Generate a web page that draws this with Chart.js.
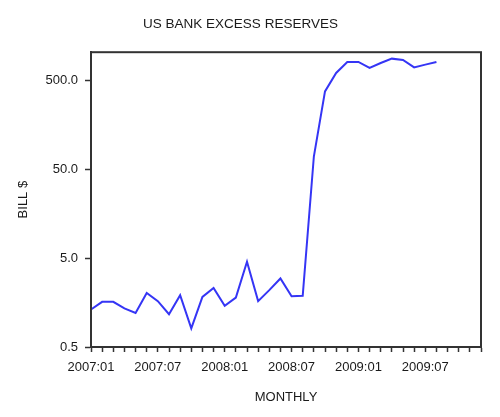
<!DOCTYPE html>
<html>
<head>
<meta charset="utf-8">
<script src="https://cdn.jsdelivr.net/npm/chart.js@4/dist/chart.umd.min.js"></script>
<style>
  html, body { margin: 0; padding: 0; background: #fff; }
  #wrap { width: 500px; height: 417px; }
</style>
</head>
<body>
<div id="wrap"><canvas id="reserves-chart"></canvas></div>
<script>
const months = [
  "2007:01", "2007:02", "2007:03", "2007:04", "2007:05", "2007:06",
  "2007:07", "2007:08", "2007:09", "2007:10", "2007:11", "2007:12",
  "2008:01", "2008:02", "2008:03", "2008:04", "2008:05", "2008:06",
  "2008:07", "2008:08", "2008:09", "2008:10", "2008:11", "2008:12",
  "2009:01", "2009:02", "2009:03", "2009:04", "2009:05", "2009:06",
  "2009:07", "2009:08", "2009:09", "2009:10", "2009:11", "2009:12"
];

// excess reserves, billions of dollars (2007:01 .. 2009:08)
const excessReserves = [
  1.32, 1.61, 1.61, 1.36, 1.21, 2.03, 1.64, 1.17, 1.91, 0.81, 1.83, 2.31,
  1.45, 1.80, 4.54, 1.64, 2.18, 2.95, 1.86, 1.88, 69.4, 375, 604, 804,
  804, 688, 783, 876, 847, 699, 750, 804
];

const xTickLabels = ["2007:01", "2007:07", "2008:01", "2008:07", "2009:01", "2009:07"];
const yTickValues = [0.5, 5, 50, 500];
const yTickLabels = ["0.5", "5.0", "50.0", "500.0"];

const TEXT_COLOR = "#1a1a1a";
const AXIS_COLOR = "#333";

// box around the plot area
const framePlugin = {
  id: "frame",
  afterDraw(chart) {
    const { ctx, chartArea } = chart;
    ctx.save();
    ctx.strokeStyle = AXIS_COLOR;
    ctx.lineWidth = 2;
    ctx.strokeRect(chartArea.left, chartArea.top, chartArea.right - chartArea.left, chartArea.bottom - chartArea.top);
    ctx.restore();
  }
};

Chart.defaults.font.family = "'Liberation Sans', Arial, sans-serif";
Chart.defaults.color = TEXT_COLOR;

new Chart(document.getElementById("reserves-chart").getContext("2d"), {
  type: "line",
  data: {
    labels: months,
    datasets: [{
      label: "Excess reserves",
      data: excessReserves,
      borderColor: "#3535f5",
      borderWidth: 2,
      pointRadius: 0,
      tension: 0,
      fill: false
    }]
  },
  options: {
    responsive: true,
    maintainAspectRatio: false,
    animation: false,
    layout: {
      padding: { left: 0, right: 19, top: 0, bottom: 0 }
    },
    plugins: {
      legend: { display: false },
      tooltip: { enabled: false },
      title: {
        display: true,
        text: "US BANK EXCESS RESERVES",
        color: TEXT_COLOR,
        font: { size: 13.5, weight: "normal" },
        padding: { top: 16, bottom: 20 }
      }
    },
    scales: {
      x: {
        type: "category",
        offset: false,
        grid: {
          display: true,
          drawOnChartArea: false,
          drawTicks: true,
          tickLength: 5,
          tickColor: AXIS_COLOR,
          tickWidth: 1.5
        },
        border: { display: true, color: AXIS_COLOR, width: 2 },
        ticks: {
          autoSkip: false,
          maxRotation: 0,
          minRotation: 0,
          padding: 8,
          color: TEXT_COLOR,
          font: { size: 13 },
          callback(value) {
            const label = months[value];
            return xTickLabels.includes(label) ? label : "";
          }
        },
        title: {
          display: true,
          text: "MONTHLY",
          color: TEXT_COLOR,
          font: { size: 13 },
          padding: { top: 0, bottom: 12 }
        },
        afterFit(scale) {
          scale.height = 70;
        }
      },
      y: {
        type: "logarithmic",
        min: 0.5,
        max: 1035,
        grid: {
          display: true,
          drawOnChartArea: false,
          drawTicks: true,
          tickLength: 6,
          tickColor: AXIS_COLOR,
          tickWidth: 1.5
        },
        border: { display: true, color: AXIS_COLOR, width: 2 },
        afterBuildTicks(scale) {
          scale.ticks = yTickValues.map((v) => ({ value: v }));
        },
        ticks: {
          padding: 7,
          color: TEXT_COLOR,
          font: { size: 13 },
          callback(value) {
            const idx = yTickValues.indexOf(value);
            return idx >= 0 ? yTickLabels[idx] : "";
          }
        },
        title: {
          display: true,
          text: "BILL $",
          color: TEXT_COLOR,
          font: { size: 13 },
          padding: { top: 16, bottom: 0 }
        },
        afterFit(scale) {
          scale.width = 91;
        }
      }
    }
  },
  plugins: [framePlugin]
});
</script>
</body>
</html>
